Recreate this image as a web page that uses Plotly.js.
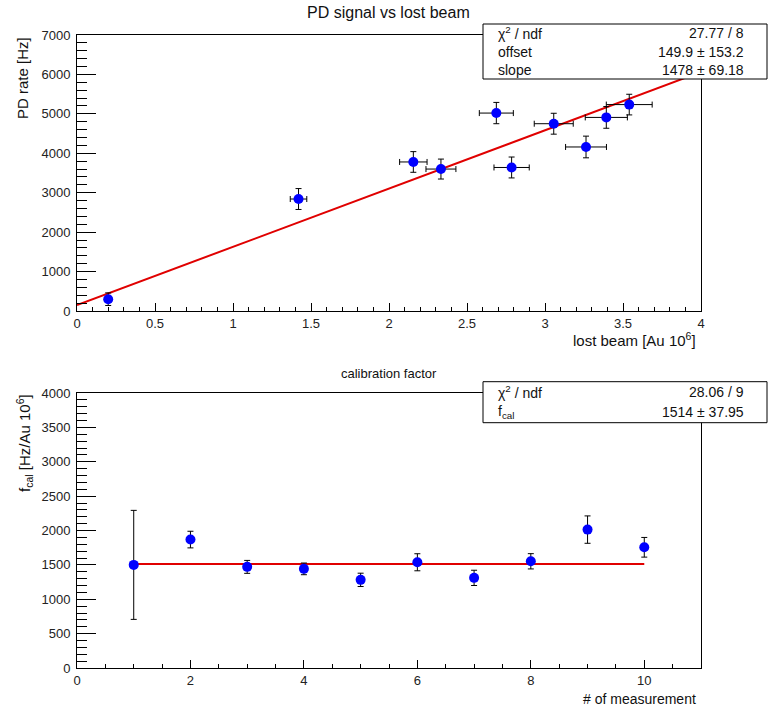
<!DOCTYPE html>
<html>
<head>
<meta charset="utf-8">
<script src="https://cdn.plot.ly/plotly-3.0.1.min.js"></script>
<style>html,body{margin:0;padding:0;background:#fff;}#chart{width:768px;height:708px;}</style>
</head>
<body>
<div id="chart"></div>
<script>
// ---- Top panel: PD signal vs lost beam ----
const lostBeam    = [0.20, 1.42, 2.156, 2.333, 2.688, 2.786, 3.056, 3.263, 3.393, 3.540];
const lostBeamErr = [0.008, 0.053, 0.088, 0.096, 0.109, 0.113, 0.125, 0.131, 0.135, 0.147];
const pdRate      = [300, 2840, 3780, 3600, 5020, 3640, 4750, 4160, 4910, 5235];
const pdRateErr   = [160, 265, 262, 253, 270, 265, 265, 275, 275, 262];
const fitTopX     = [0, 4];
const fitTopY     = [149.9, 6061.9];
const statsTopLabels = ["χ<sup>2</sup> / ndf", "offset", "slope"];
const statsTopValues = ["27.77 / 8", "149.9 ± 153.2", "1478 ± 69.18"];

// ---- Bottom panel: calibration factor ----
const measNo   = [1, 2, 3, 4, 5, 6, 7, 8, 9, 10];
const fCal     = [1500, 1868, 1471, 1442, 1282, 1538, 1311, 1552, 2013, 1756];
const fCalErr  = [793, 121, 94, 85, 97, 124, 111, 111, 199, 143];
const fitBotX  = [1, 10];
const fitBotY  = [1514, 1514];
const statsBotLabels = ["χ<sup>2</sup> / ndf", "f<sub>cal</sub>"];
const statsBotValues = ["28.06 / 9", "1514 ± 37.95"];

const topTicks = [0, 0.5, 1, 1.5, 2, 2.5, 3, 3.5, 4];
const topTickText = ["0", "0.5", "1", "1.5", "2", "2.5", "3", "3.5", "4"];

// pixel -> paper helpers (layout geometry only)
const ML = 77, MR = 67, MT = 35, MB = 40, W = 768, H = 708;
const PW = W - ML - MR, PH = H - MT - MB;
const px = x => (x - ML) / PW;
const py = y => 1 - (y - MT) / PH;

const FONT = "Liberation Sans, Arial, Helvetica, sans-serif";

const markerStyle = {color: "#0000ff", size: 10};
const errStyle = {color: "#000", thickness: 1, width: 3};

const traces = [
  {x: fitTopX, y: fitTopY, mode: "lines", line: {color: "#e00000", width: 2},
   xaxis: "x", yaxis: "y", hoverinfo: "skip"},
  {x: lostBeam, y: pdRate, mode: "markers", marker: markerStyle,
   error_x: Object.assign({type: "data", array: lostBeamErr, visible: true}, errStyle),
   error_y: Object.assign({type: "data", array: pdRateErr, visible: true}, errStyle),
   xaxis: "x", yaxis: "y"},
  {x: fitBotX, y: fitBotY, mode: "lines", line: {color: "#e00000", width: 2},
   xaxis: "x2", yaxis: "y2", hoverinfo: "skip"},
  {x: measNo, y: fCal, mode: "markers", marker: markerStyle,
   error_y: Object.assign({type: "data", array: fCalErr, visible: true}, errStyle),
   xaxis: "x2", yaxis: "y2"}
];

const axBase = {
  showgrid: false, zeroline: false, showline: true, linecolor: "#000", linewidth: 1,
  mirror: true, ticks: "inside", tickcolor: "#000", tickwidth: 1,
  tickfont: {family: FONT, size: 13, color: "#222"}
};

const ySplit = py(311), yBotTop = py(393);

const layout = {
  width: W, height: H,
  margin: {l: ML, r: MR, t: MT, b: MB},
  paper_bgcolor: "#fff", plot_bgcolor: "#fff",
  showlegend: false,
  xaxis: Object.assign({}, axBase, {range: [0, 4], anchor: "y", domain: [0, 1],
    tickmode: "array", tickvals: topTicks, ticktext: topTickText, ticklen: 8,
    minor: {dtick: 0.1, ticks: "inside", ticklen: 4, tickcolor: "#000", showgrid: false}}),
  yaxis: Object.assign({}, axBase, {range: [0, 7000], anchor: "x", domain: [ySplit, 1],
    dtick: 1000, ticklen: 19, ticklabelstandoff: 3,
    minor: {dtick: 200, ticks: "inside", ticklen: 10, tickcolor: "#000", showgrid: false}}),
  xaxis2: Object.assign({}, axBase, {range: [0, 11], anchor: "y2", domain: [0, 1],
    tickvals: [0, 2, 4, 6, 8, 10], ticklen: 8,
    minor: {dtick: 0.5, ticks: "inside", ticklen: 4, tickcolor: "#000", showgrid: false}}),
  yaxis2: Object.assign({}, axBase, {range: [0, 4000], anchor: "x2", domain: [0, yBotTop],
    dtick: 500, ticklen: 19, ticklabelstandoff: 3,
    minor: {dtick: 100, ticks: "inside", ticklen: 10, tickcolor: "#000", showgrid: false}}),
  shapes: [
    {type: "rect", xref: "paper", yref: "paper", x0: px(483), x1: px(767), y0: py(79), y1: py(24),
     fillcolor: "#fff", line: {color: "#000", width: 1}, layer: "above"},
    {type: "rect", xref: "paper", yref: "paper", x0: px(483), x1: px(767), y0: py(422.7), y1: py(381.7),
     fillcolor: "#fff", line: {color: "#000", width: 1}, layer: "above"}
  ],
  annotations: []
};

const ann = layout.annotations;
const textFont = (s) => ({family: FONT, size: s, color: "#111"});
ann.push({text: "PD signal vs lost beam", xref: "paper", yref: "paper", x: px(388), y: py(13),
  xanchor: "center", yanchor: "middle", showarrow: false, font: textFont(16)});
ann.push({text: "calibration factor", xref: "paper", yref: "paper", x: px(389), y: py(373),
  xanchor: "center", yanchor: "middle", showarrow: false, font: textFont(13)});
ann.push({text: "PD rate [Hz]", xref: "paper", yref: "paper", x: px(22), y: py(35),
  textangle: -90, xanchor: "center", yanchor: "top", showarrow: false, font: textFont(15)});
ann.push({text: "f<sub>cal</sub> [Hz/Au 10<sup>6</sup>]", xref: "paper", yref: "paper", x: px(24), y: py(392),
  textangle: -90, xanchor: "center", yanchor: "top", showarrow: false, font: textFont(15)});
ann.push({text: "lost beam [Au 10<sup>6</sup>]", xref: "paper", yref: "paper", x: px(698), y: py(339),
  xanchor: "right", yanchor: "middle", showarrow: false, font: textFont(15)});
ann.push({text: "# of measurement", xref: "paper", yref: "paper", x: px(698), y: py(699),
  xanchor: "right", yanchor: "middle", showarrow: false, font: textFont(14)});

const topRows = [33, 52, 70];
statsTopLabels.forEach((t, i) => {
  ann.push({text: t, xref: "paper", yref: "paper", x: px(496), y: py(topRows[i]),
    xanchor: "left", yanchor: "middle", showarrow: false, font: textFont(14)});
  ann.push({text: statsTopValues[i], xref: "paper", yref: "paper", x: px(746), y: py(topRows[i]),
    xanchor: "right", yanchor: "middle", showarrow: false, font: textFont(14)});
});
const botRows = [392, 412];
statsBotLabels.forEach((t, i) => {
  ann.push({text: t, xref: "paper", yref: "paper", x: px(496), y: py(botRows[i]),
    xanchor: "left", yanchor: "middle", showarrow: false, font: textFont(14)});
  ann.push({text: statsBotValues[i], xref: "paper", yref: "paper", x: px(746), y: py(botRows[i]),
    xanchor: "right", yanchor: "middle", showarrow: false, font: textFont(14)});
});

Plotly.newPlot("chart", traces, layout, {displayModeBar: false, staticPlot: true});
</script>
</body>
</html>
